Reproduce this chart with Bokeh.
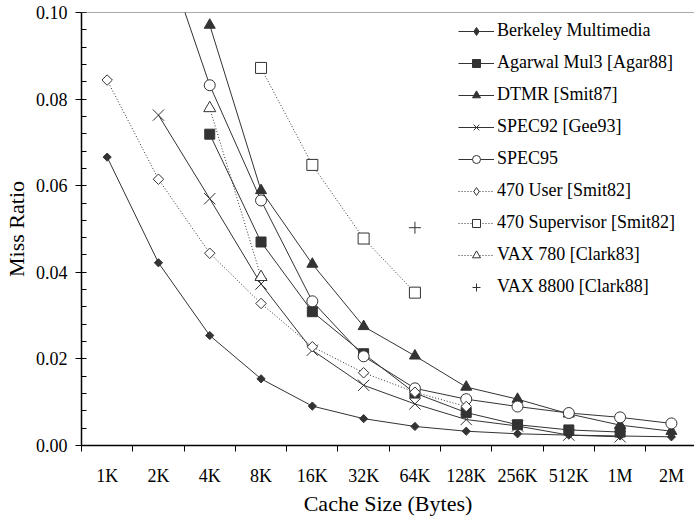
import math
from bokeh.plotting import figure
from bokeh.models import FixedTicker, Span, Legend, LegendItem, NumeralTickFormatter
from bokeh.embed import file_html
from bokeh.resources import INLINE

# ---------------- data ----------------
cache_sizes = ["1K", "2K", "4K", "8K", "16K", "32K", "64K", "128K", "256K", "512K", "1M", "2M"]

berkeley = [0.0666, 0.0422, 0.0254, 0.0154, 0.0091, 0.0062, 0.0044, 0.0033, 0.0027, 0.0024, 0.0022, 0.0020]
agarwal = [None, None, 0.0719, 0.0470, 0.0309, 0.0212, 0.0121, 0.0076, 0.0048, 0.0036, 0.0031, None]
dtmr = [None, None, 0.0971, 0.0589, 0.0419, 0.0275, 0.0207, 0.0135, 0.0107, 0.0073, 0.0047, 0.0033]
spec92 = [None, 0.0763, 0.0570, 0.0373, 0.0220, 0.0139, 0.0096, 0.0060, 0.0045, 0.0024, 0.0020, None]
spec95 = [None, 0.1180, 0.0832, 0.0566, 0.0333, 0.0206, 0.0132, 0.0107, 0.0090, 0.0075, 0.0065, 0.0051]
user470 = [0.0844, 0.0615, 0.0444, 0.0328, 0.0228, 0.0168, 0.0123, 0.0090, None, None, None, None]
supervisor470 = [None, None, None, 0.0872, 0.0648, 0.0478, 0.0353, None, None, None, None, None]
vax780 = [None, None, 0.0779, 0.0389, None, None, None, None, None, None, None, None]
vax8800 = [None, None, None, None, None, None, 0.0503, None, None, None, None, None]

y_ticks = [0.0, 0.02, 0.04, 0.06, 0.08, 0.10]

# ---------------- figure ----------------
FONT = "'Liberation Serif', 'Times New Roman', serif"
DARK = "#333333"

p = figure(width=694, height=518, x_range=(-0.5, 11.45), y_range=(0, 0.1),
           output_backend="svg", toolbar_location=None,
           min_border_left=80, min_border_right=0, min_border_top=12, min_border_bottom=65)
p.grid.visible = False
p.outline_line_color = None
p.background_fill_color = "white"
p.border_fill_color = "white"


def pts(vals):
    xs = [i for i, v in enumerate(vals) if v is not None]
    ys = [v for v in vals if v is not None]
    return xs, ys


# name, values, marker, size, fill, has_line, dash, legend marker
series = [
    ("Berkeley Multimedia", berkeley, "square", 5.8, DARK, True, None, "diamond"),
    ("Agarwal Mul3 [Agar88]", agarwal, "square", 10, DARK, True, None, None),
    ("DTMR [Smit87]", dtmr, "triangle", 11, DARK, True, None, None),
    ("SPEC92 [Gee93]", spec92, "x", 16, None, True, None, None),
    ("SPEC95", spec95, "circle", 11, "white", True, None, None),
    ("470 User [Smit82]", user470, "square", 7.4, "white", True, "1 2", "diamond"),
    ("470 Supervisor [Smit82]", supervisor470, "square", 11, "white", True, "1 2", None),
    ("VAX 780 [Clark83]", vax780, "triangle", 12, "white", True, "1 2", None),
    ("VAX 8800 [Clark88]", vax8800, "cross", 12, None, False, None, None),
]

line_rs = []
for name, vals, marker, size, fill, has_line, dash, _ in series:
    xs, ys = pts(vals)
    if has_line:
        kw = dict(line_color=DARK, line_width=1)
        if dash:
            kw["line_dash"] = dash
        line_rs.append(p.line(xs, ys, **kw))
    else:
        line_rs.append(None)

items = []
for (name, vals, marker, size, fill, has_line, dash, leg_marker), lr in zip(series, line_rs):
    xs, ys = pts(vals)
    kw = dict(line_color=DARK, line_width=1)
    if fill is None:
        kw["fill_alpha"] = 0
    else:
        kw["fill_color"] = fill
    legend_marker_r = None
    if leg_marker is not None:
        # legend proxy: tiny diamonds hidden beneath the rotated squares
        # (the legend ignores marker angle, so it needs a real diamond glyph)
        legend_marker_r = p.scatter(xs, ys, marker=leg_marker, size=1, **kw)
    angle = math.pi / 4 if leg_marker == "diamond" else 0
    sr = p.scatter(xs, ys, marker=marker, angle=angle, size=size, **kw)
    if legend_marker_r is None:
        legend_marker_r = sr
    rs = [lr, legend_marker_r] if lr is not None else [legend_marker_r]
    items.append(LegendItem(label=name, renderers=rs))

# top border line
p.add_layout(Span(location=0.1, dimension="width", line_color="#555555", line_width=1))

# x axis
xa = p.xaxis[0]
xa.ticker = FixedTicker(ticks=list(range(len(cache_sizes))),
                        minor_ticks=[i - 0.5 for i in range(len(cache_sizes))])
xa.major_label_overrides = {i: s for i, s in enumerate(cache_sizes)}
xa.major_tick_out = 0
xa.major_tick_in = 0
xa.minor_tick_out = 6
xa.minor_tick_in = 0
xa.minor_tick_line_color = "black"
xa.axis_line_color = "black"
xa.axis_line_width = 1.5
xa.major_label_standoff = 14
xa.major_label_text_font = FONT
xa.major_label_text_font_size = "18px"
xa.major_label_text_color = "black"
xa.axis_label = "Cache Size (Bytes)"
xa.axis_label_text_font = FONT
xa.axis_label_text_font_size = "22px"
xa.axis_label_text_font_style = "normal"
xa.axis_label_text_color = "black"
xa.axis_label_standoff = 2

# y axis
ya = p.yaxis[0]
ya.ticker = FixedTicker(ticks=y_ticks,
                        minor_ticks=[round(i * 0.004, 3) for i in range(26)])
ya.formatter = NumeralTickFormatter(format="0.00")
ya.major_tick_out = 6
ya.major_tick_in = 0
ya.minor_tick_out = 0
ya.minor_tick_in = 5
ya.major_tick_line_color = "black"
ya.minor_tick_line_color = "black"
ya.axis_line_color = "black"
ya.axis_line_width = 1.5
ya.major_label_standoff = 8
ya.major_label_text_font = FONT
ya.major_label_text_font_size = "18px"
ya.major_label_text_color = "black"
ya.axis_label = "Miss Ratio"
ya.axis_label_text_font = FONT
ya.axis_label_text_font_size = "22px"
ya.axis_label_text_font_style = "normal"
ya.axis_label_text_color = "black"
ya.axis_label_standoff = 4

legend = Legend(items=items, location=(377, 148), padding=0, margin=0,
                spacing=11, glyph_width=36, glyph_height=20, label_height=20,
                label_standoff=3, border_line_color=None, background_fill_alpha=0,
                label_text_font=FONT, label_text_font_size="18px",
                label_text_color="black")
p.add_layout(legend, "center")

open("out.html", "w").write(file_html(p, INLINE))
